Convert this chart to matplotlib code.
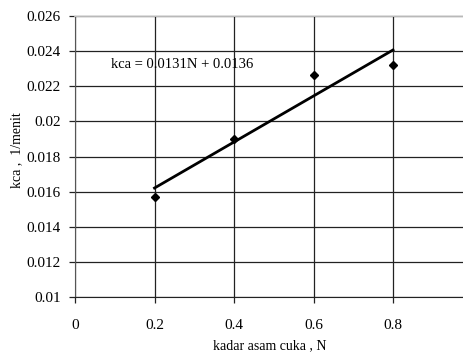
import matplotlib
matplotlib.use("Agg")
import matplotlib.pyplot as plt
import numpy as np

plt.rcParams['font.family'] = ['Liberation Serif', 'DejaVu Serif']

kadar = [0.2, 0.4, 0.6, 0.8]
kca = [0.01571, 0.01898, 0.02262, 0.02323]
xticks = [0, 0.2, 0.4, 0.6, 0.8]
yticks = [0.01, 0.012, 0.014, 0.016, 0.018, 0.02, 0.022, 0.024, 0.026]
ytick_labels = ['0.01', '0.012', '0.014', '0.016', '0.018', '0.02', '0.022', '0.024', '0.026']
equation = "kca = 0.0131N + 0.0136"

W, H = 464, 363
fig = plt.figure(figsize=(W/100, H/100), dpi=100)
left, right, top, bottom = 75, 464, 16, 297
ax = fig.add_axes([left/W, 1-bottom/H, (right-left)/W, (bottom-top)/H])

ax.set_xlim(0, 0.9786)
ax.set_ylim(0.01, 0.026)
ax.set_xticks(xticks)
ax.set_xticklabels(['0', '0.2', '0.4', '0.6', '0.8'])
ax.set_yticks(yticks)
ax.set_yticklabels(ytick_labels)
ax.grid(True, color='#222222', linewidth=0.9)
ax.set_axisbelow(True)
for s in ['right']:
    ax.spines[s].set_visible(False)
ax.spines['top'].set_color('#d8d8d8')
ax.spines['top'].set_linewidth(1.2)
ax.spines['left'].set_color('#555555')
ax.spines['bottom'].set_color('#222222')
ax.tick_params(direction='out', length=4, width=0.9, labelsize=11, pad=6, colors='#222222', labelcolor='black')
ax.tick_params(axis='x', pad=12)

slope, intercept = np.polyfit(kadar, kca, 1)
xs = np.array([kadar[0], kadar[-1]])
ax.plot(xs, slope*xs + intercept, color='black', linewidth=2, zorder=3)
ax.plot(kadar, kca, linestyle='none', marker='D', markersize=4.5, color='black', zorder=4)

ax.text(0.09, 0.02325, equation, fontsize=10.5, va='center', ha='left')

fig.text(270/W, 1-346/H, 'kadar asam cuka , N', fontsize=10, ha='center', va='center')
fig.text(17/W, 1-150/H, 'kca ,  1/menit', fontsize=10, ha='center', va='center', rotation=90)

fig.savefig('out.png', dpi=100)
